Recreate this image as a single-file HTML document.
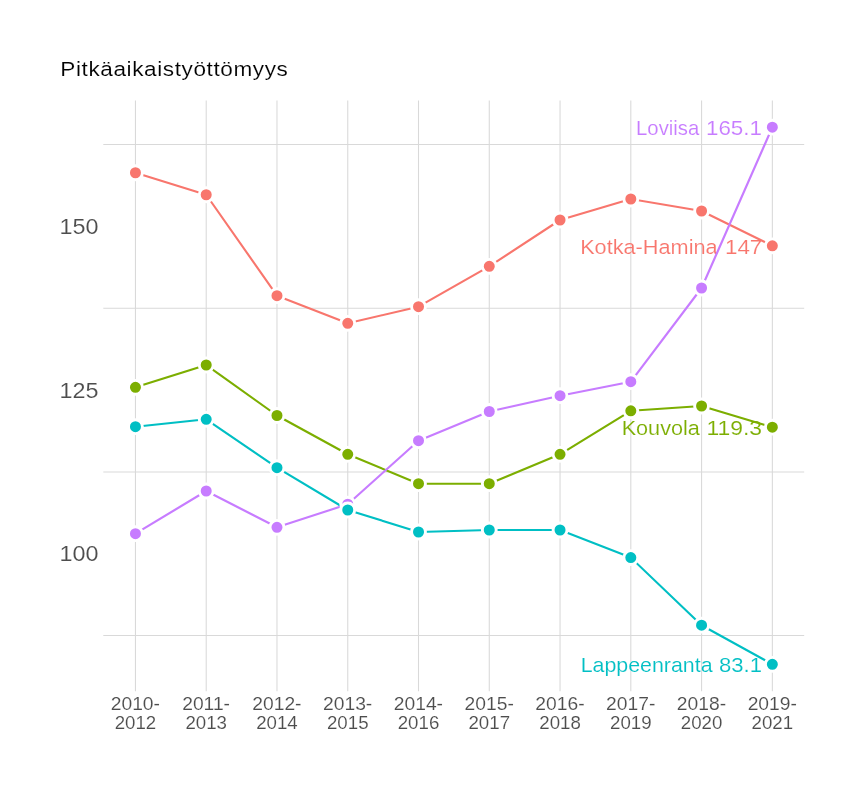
<!DOCTYPE html>
<html><head><meta charset="utf-8"><title>Pitkäaikaistyöttömyys</title>
<style>
html,body{margin:0;padding:0;background:#fff;}
svg{display:block;}
text{font-family:"Liberation Sans",sans-serif;}
.t{opacity:0.999;}
</style></head><body>
<svg width="864" height="792" viewBox="0 0 864 792">
<rect width="864" height="792" fill="#fff"/>
<g stroke="#D9D9D9" stroke-width="1.07" fill="none">
<line x1="103.3" x2="804.2" y1="144.50" y2="144.50"/>
<line x1="103.3" x2="804.2" y1="308.30" y2="308.30"/>
<line x1="103.3" x2="804.2" y1="471.95" y2="471.95"/>
<line x1="103.3" x2="804.2" y1="635.50" y2="635.50"/>
<line x1="135.45" x2="135.45" y1="100.6" y2="691.2"/>
<line x1="206.21" x2="206.21" y1="100.6" y2="691.2"/>
<line x1="276.98" x2="276.98" y1="100.6" y2="691.2"/>
<line x1="347.75" x2="347.75" y1="100.6" y2="691.2"/>
<line x1="418.51" x2="418.51" y1="100.6" y2="691.2"/>
<line x1="489.27" x2="489.27" y1="100.6" y2="691.2"/>
<line x1="560.04" x2="560.04" y1="100.6" y2="691.2"/>
<line x1="630.81" x2="630.81" y1="100.6" y2="691.2"/>
<line x1="701.57" x2="701.57" y1="100.6" y2="691.2"/>
<line x1="772.34" x2="772.34" y1="100.6" y2="691.2"/>
</g>
<g class="t">
<text transform="translate(60.30,76.00) scale(1.0750,1)" font-size="21" fill="#000" text-anchor="start" letter-spacing="0.55" stroke="#fff" stroke-width="0.12">Pitkäaikaistyöttömyys</text>
<text transform="translate(98.45,234.00) scale(1.0350,1)" font-size="22.6" fill="#4D4D4D" text-anchor="end" stroke="#fff" stroke-width="0.12">150</text>
<text transform="translate(98.45,397.50) scale(1.0350,1)" font-size="22.6" fill="#4D4D4D" text-anchor="end" stroke="#fff" stroke-width="0.12">125</text>
<text transform="translate(98.45,561.00) scale(1.0350,1)" font-size="22.6" fill="#4D4D4D" text-anchor="end" stroke="#fff" stroke-width="0.12">100</text>
<text transform="translate(135.35,710.00) scale(1.0700,1)" font-size="18" fill="#4D4D4D" text-anchor="middle" stroke="#fff" stroke-width="0.12">2010-</text>
<text transform="translate(135.45,729.00) scale(1.0390,1)" font-size="18" fill="#4D4D4D" text-anchor="middle" stroke="#fff" stroke-width="0.12">2012</text>
<text transform="translate(206.11,710.00) scale(1.0700,1)" font-size="18" fill="#4D4D4D" text-anchor="middle" stroke="#fff" stroke-width="0.12">2011-</text>
<text transform="translate(206.21,729.00) scale(1.0390,1)" font-size="18" fill="#4D4D4D" text-anchor="middle" stroke="#fff" stroke-width="0.12">2013</text>
<text transform="translate(276.88,710.00) scale(1.0700,1)" font-size="18" fill="#4D4D4D" text-anchor="middle" stroke="#fff" stroke-width="0.12">2012-</text>
<text transform="translate(276.98,729.00) scale(1.0390,1)" font-size="18" fill="#4D4D4D" text-anchor="middle" stroke="#fff" stroke-width="0.12">2014</text>
<text transform="translate(347.64,710.00) scale(1.0700,1)" font-size="18" fill="#4D4D4D" text-anchor="middle" stroke="#fff" stroke-width="0.12">2013-</text>
<text transform="translate(347.75,729.00) scale(1.0390,1)" font-size="18" fill="#4D4D4D" text-anchor="middle" stroke="#fff" stroke-width="0.12">2015</text>
<text transform="translate(418.41,710.00) scale(1.0700,1)" font-size="18" fill="#4D4D4D" text-anchor="middle" stroke="#fff" stroke-width="0.12">2014-</text>
<text transform="translate(418.51,729.00) scale(1.0390,1)" font-size="18" fill="#4D4D4D" text-anchor="middle" stroke="#fff" stroke-width="0.12">2016</text>
<text transform="translate(489.17,710.00) scale(1.0700,1)" font-size="18" fill="#4D4D4D" text-anchor="middle" stroke="#fff" stroke-width="0.12">2015-</text>
<text transform="translate(489.27,729.00) scale(1.0390,1)" font-size="18" fill="#4D4D4D" text-anchor="middle" stroke="#fff" stroke-width="0.12">2017</text>
<text transform="translate(559.94,710.00) scale(1.0700,1)" font-size="18" fill="#4D4D4D" text-anchor="middle" stroke="#fff" stroke-width="0.12">2016-</text>
<text transform="translate(560.04,729.00) scale(1.0390,1)" font-size="18" fill="#4D4D4D" text-anchor="middle" stroke="#fff" stroke-width="0.12">2018</text>
<text transform="translate(630.71,710.00) scale(1.0700,1)" font-size="18" fill="#4D4D4D" text-anchor="middle" stroke="#fff" stroke-width="0.12">2017-</text>
<text transform="translate(630.81,729.00) scale(1.0390,1)" font-size="18" fill="#4D4D4D" text-anchor="middle" stroke="#fff" stroke-width="0.12">2019</text>
<text transform="translate(701.47,710.00) scale(1.0700,1)" font-size="18" fill="#4D4D4D" text-anchor="middle" stroke="#fff" stroke-width="0.12">2018-</text>
<text transform="translate(701.57,729.00) scale(1.0390,1)" font-size="18" fill="#4D4D4D" text-anchor="middle" stroke="#fff" stroke-width="0.12">2020</text>
<text transform="translate(772.24,710.00) scale(1.0700,1)" font-size="18" fill="#4D4D4D" text-anchor="middle" stroke="#fff" stroke-width="0.12">2019-</text>
<text transform="translate(772.34,729.00) scale(1.0390,1)" font-size="18" fill="#4D4D4D" text-anchor="middle" stroke="#fff" stroke-width="0.12">2021</text>
<text transform="translate(636.06,134.50) scale(1.0153,1)" font-size="20" fill="#C77CFF" text-anchor="start" stroke="#fff" stroke-width="0.12">Loviisa</text>
<text transform="translate(705.98,134.50) scale(1.1195,1)" font-size="20" fill="#C77CFF" text-anchor="start" stroke="#fff" stroke-width="0.12">165.1</text>
<text transform="translate(580.14,253.70) scale(1.0852,1)" font-size="20" fill="#F8766D" text-anchor="start" stroke="#fff" stroke-width="0.12">Kotka-Hamina</text>
<text transform="translate(724.92,253.70) scale(1.1216,1)" font-size="20" fill="#F8766D" text-anchor="start" stroke="#fff" stroke-width="0.12">147</text>
<text transform="translate(621.65,435.00) scale(1.0825,1)" font-size="20" fill="#7CAE00" text-anchor="start" stroke="#fff" stroke-width="0.12">Kouvola</text>
<text transform="translate(706.38,435.00) scale(1.1471,1)" font-size="20" fill="#7CAE00" text-anchor="start" stroke="#fff" stroke-width="0.12">119.3</text>
<text transform="translate(580.67,671.80) scale(1.0693,1)" font-size="20" fill="#00BFC4" text-anchor="start" stroke="#fff" stroke-width="0.12">Lappeenranta</text>
<text transform="translate(719.05,671.80) scale(1.1037,1)" font-size="20" fill="#00BFC4" text-anchor="start" stroke="#fff" stroke-width="0.12">83.1</text>
</g>
<polyline points="135.45,172.75 206.21,194.75 276.98,295.70 347.75,323.30 418.51,306.70 489.27,266.30 560.04,220.00 630.81,199.00 701.57,211.00 772.34,245.80" fill="none" stroke="#F8766D" stroke-width="2.13" stroke-linejoin="round" stroke-linecap="butt"/>
<polyline points="135.45,387.30 206.21,365.00 276.98,415.50 347.75,454.30 418.51,483.70 489.27,483.70 560.04,454.30 630.81,410.80 701.57,406.00 772.34,427.20" fill="none" stroke="#7CAE00" stroke-width="2.13" stroke-linejoin="round" stroke-linecap="butt"/>
<polyline points="135.45,426.70 206.21,419.30 276.98,467.70 347.75,510.00 418.51,532.00 489.27,530.00 560.04,530.00 630.81,557.60 701.57,625.20 772.34,664.30" fill="none" stroke="#00BFC4" stroke-width="2.13" stroke-linejoin="round" stroke-linecap="butt"/>
<polyline points="135.45,533.70 206.21,491.00 276.98,527.30 347.75,504.20 418.51,440.70 489.27,411.50 560.04,395.70 630.81,381.70 701.57,288.00 772.34,127.20" fill="none" stroke="#C77CFF" stroke-width="2.13" stroke-linejoin="round" stroke-linecap="butt"/>
<g fill="#C77CFF" stroke="#fff" stroke-width="2.9">
<circle cx="135.45" cy="533.70" r="6.95"/>
<circle cx="206.21" cy="491.00" r="6.95"/>
<circle cx="276.98" cy="527.30" r="6.95"/>
<circle cx="347.75" cy="504.20" r="6.95"/>
<circle cx="418.51" cy="440.70" r="6.95"/>
<circle cx="489.27" cy="411.50" r="6.95"/>
<circle cx="560.04" cy="395.70" r="6.95"/>
<circle cx="630.81" cy="381.70" r="6.95"/>
<circle cx="701.57" cy="288.00" r="6.95"/>
<circle cx="772.34" cy="127.20" r="6.95"/>
</g>
<g fill="#F8766D" stroke="#fff" stroke-width="2.9">
<circle cx="135.45" cy="172.75" r="6.95"/>
<circle cx="206.21" cy="194.75" r="6.95"/>
<circle cx="276.98" cy="295.70" r="6.95"/>
<circle cx="347.75" cy="323.30" r="6.95"/>
<circle cx="418.51" cy="306.70" r="6.95"/>
<circle cx="489.27" cy="266.30" r="6.95"/>
<circle cx="560.04" cy="220.00" r="6.95"/>
<circle cx="630.81" cy="199.00" r="6.95"/>
<circle cx="701.57" cy="211.00" r="6.95"/>
<circle cx="772.34" cy="245.80" r="6.95"/>
</g>
<g fill="#7CAE00" stroke="#fff" stroke-width="2.9">
<circle cx="135.45" cy="387.30" r="6.95"/>
<circle cx="206.21" cy="365.00" r="6.95"/>
<circle cx="276.98" cy="415.50" r="6.95"/>
<circle cx="347.75" cy="454.30" r="6.95"/>
<circle cx="418.51" cy="483.70" r="6.95"/>
<circle cx="489.27" cy="483.70" r="6.95"/>
<circle cx="560.04" cy="454.30" r="6.95"/>
<circle cx="630.81" cy="410.80" r="6.95"/>
<circle cx="701.57" cy="406.00" r="6.95"/>
<circle cx="772.34" cy="427.20" r="6.95"/>
</g>
<g fill="#00BFC4" stroke="#fff" stroke-width="2.9">
<circle cx="135.45" cy="426.70" r="6.95"/>
<circle cx="206.21" cy="419.30" r="6.95"/>
<circle cx="276.98" cy="467.70" r="6.95"/>
<circle cx="347.75" cy="510.00" r="6.95"/>
<circle cx="418.51" cy="532.00" r="6.95"/>
<circle cx="489.27" cy="530.00" r="6.95"/>
<circle cx="560.04" cy="530.00" r="6.95"/>
<circle cx="630.81" cy="557.60" r="6.95"/>
<circle cx="701.57" cy="625.20" r="6.95"/>
<circle cx="772.34" cy="664.30" r="6.95"/>
</g>
</svg>
</body></html>
